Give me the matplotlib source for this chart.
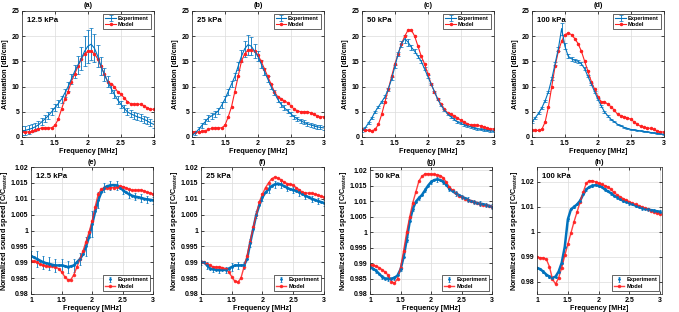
import matplotlib

matplotlib.use("Agg")

import matplotlib.pyplot as plt
import numpy as np

# frequency grid [MHz], 0.05 MHz step
freq = np.linspace(1.0, 3.0, 41)

pressures = ["12.5 kPa", "25 kPa", "50 kPa", "100 kPa"]
top_tags = ["(a)", "(b)", "(c)", "(d)"]
bottom_tags = ["(e)", "(f)", "(g)", "(h)"]

# attenuation [dB/cm]
att_exp_a = [1.2, 1.3, 1.5, 1.7, 2.0, 2.4, 3.0, 3.6, 4.2, 5.0, 5.8, 6.6, 7.5, 8.7, 10.0,
             11.5, 13.0, 14.3, 15.5, 17.0, 18.0, 18.4, 17.6, 16.0, 14.0, 12.4, 11.0, 9.7, 8.5,
             7.4, 6.5, 5.7, 5.0, 4.6, 4.3, 4.0, 3.8, 3.5, 3.2, 2.8, 2.5]
att_sd_a = [0.9, 0.9, 0.9, 0.8, 0.8, 0.7, 0.7, 0.7, 0.7, 0.7, 0.7, 0.7, 0.7, 0.8, 0.9,
            1.0, 1.3, 1.8, 2.3, 3.0, 3.3, 3.2, 2.8, 2.2, 1.8, 1.3, 1.1, 0.9, 0.8,
            0.8, 0.7, 0.7, 0.7, 0.7, 0.7, 0.7, 0.7, 0.7, 0.7, 0.7, 0.7]
att_mod_a = [1.1, 1.0, 1.0, 1.1, 1.3, 1.6, 1.8, 1.8, 1.8, 1.8, 2.3, 3.5, 5.5, 7.5, 9.0,
             11.0, 12.5, 14.0, 15.5, 16.5, 17.0, 17.0, 16.5, 15.5, 14.0, 12.5, 11.0, 10.5, 10.0,
             9.0, 8.5, 7.8, 7.0, 6.6, 6.5, 6.5, 6.5, 6.2, 5.8, 5.5, 5.5]

att_exp_b = [0.3, 0.8, 1.5, 2.3, 3.0, 3.8, 4.2, 4.6, 5.2, 6.3, 7.5, 9.0, 10.5, 12.0, 14.0,
             16.0, 17.5, 18.3, 18.0, 17.0, 16.0, 14.5, 13.0, 11.5, 10.0, 8.8, 7.5, 6.5, 5.8,
             5.2, 4.6, 4.0, 3.6, 3.2, 2.9, 2.6, 2.4, 2.2, 2.0, 1.9, 1.8]
att_sd_b = [0.4, 0.4, 0.5, 0.5, 0.5, 0.6, 0.6, 0.6, 0.6, 0.6, 0.6, 0.6, 0.6, 0.7, 0.8,
            1.2, 1.6, 2.0, 1.8, 1.4, 1.0, 0.8, 0.7, 0.6, 0.5, 0.5, 0.5, 0.5, 0.5,
            0.4, 0.4, 0.4, 0.4, 0.4, 0.4, 0.4, 0.4, 0.4, 0.4, 0.4, 0.4]
att_mod_b = [1.0, 1.0, 1.0, 1.1, 1.2, 1.5, 1.7, 1.8, 1.8, 1.8, 2.3, 4.0, 6.0, 9.0, 12.0,
             15.0, 16.5, 17.2, 17.2, 17.0, 16.3, 15.0, 13.5, 12.0, 10.5, 9.0, 8.0, 7.5, 7.2,
             6.8, 6.2, 5.5, 5.2, 5.0, 5.0, 5.0, 4.8, 4.5, 4.2, 4.0, 4.0]

att_exp_c = [1.2, 1.8, 2.8, 3.8, 5.0, 6.0, 7.0, 8.0, 9.5, 11.5, 14.0, 16.5, 18.5, 19.5, 18.8,
             17.8, 17.0, 16.0, 15.0, 13.5, 12.0, 10.5, 9.0, 7.5, 6.3, 5.3, 4.6, 4.0, 3.5,
             3.0, 2.7, 2.4, 2.2, 2.0, 1.8, 1.6, 1.5, 1.4, 1.3, 1.2, 1.1]
att_sd_c = [0.2, 0.2, 0.2, 0.2, 0.2, 0.2, 0.2, 0.3, 0.3, 0.3, 0.3, 0.4, 0.6, 0.8, 0.7,
            0.5, 0.4, 0.3, 0.3, 0.3, 0.3, 0.2, 0.2, 0.2, 0.2, 0.2, 0.2, 0.2, 0.2,
            0.2, 0.2, 0.2, 0.2, 0.2, 0.2, 0.2, 0.2, 0.2, 0.2, 0.2, 0.2]
att_mod_c = [1.5, 1.3, 1.3, 1.2, 1.5, 2.5, 4.5, 7.0, 9.5, 12.0, 14.5, 16.5, 18.5, 20.0, 21.2,
             21.2, 20.0, 18.0, 16.0, 14.5, 12.5, 10.5, 9.0, 7.5, 6.5, 5.5, 4.8, 4.5, 4.2,
             3.8, 3.3, 3.0, 2.6, 2.4, 2.4, 2.3, 2.2, 2.0, 1.8, 1.6, 1.6]

att_exp_d = [3.0, 3.8, 4.7, 5.8, 7.2, 9.0, 11.5, 14.5, 17.5, 21.5, 18.0, 16.0, 15.5, 15.2, 15.0,
             14.5, 13.5, 12.0, 10.5, 9.0, 7.5, 6.2, 5.0, 4.2, 3.5, 3.0, 2.5, 2.2, 1.9,
             1.7, 1.5, 1.4, 1.3, 1.2, 1.1, 1.0, 0.9, 0.8, 0.7, 0.6, 0.5]
att_sd_d = [0.2, 0.2, 0.2, 0.2, 0.2, 0.2, 0.3, 0.3, 0.4, 1.2, 0.6, 0.4, 0.4, 0.3, 0.3,
            0.3, 0.3, 0.2, 0.2, 0.2, 0.2, 0.2, 0.2, 0.2, 0.1, 0.1, 0.1, 0.1, 0.1,
            0.1, 0.1, 0.1, 0.1, 0.1, 0.1, 0.1, 0.1, 0.1, 0.1, 0.1, 0.1]
att_mod_d = [1.3, 1.3, 1.3, 1.5, 3.0, 6.0, 10.0, 14.0, 17.0, 19.0, 20.3, 20.6, 20.3, 19.5, 18.5,
             17.0, 15.0, 13.0, 11.0, 9.5, 8.0, 7.0, 7.0, 6.5, 6.0, 5.3, 4.5, 4.2, 4.0,
             3.8, 3.5, 3.0, 2.5, 2.1, 1.9, 1.8, 1.7, 1.5, 1.2, 1.0, 1.0]

# normalized sound speed [C/C_water]
spd_exp_e = [0.9920, 0.9915, 0.9910, 0.9905, 0.9900, 0.9897, 0.9895, 0.9892, 0.9890, 0.9890, 0.9890,
             0.9888, 0.9885, 0.9887, 0.9890, 0.9900, 0.9910, 0.9925, 0.9950, 0.9980, 1.0020,
             1.0060, 1.0095, 1.0120, 1.0135, 1.0140, 1.0142, 1.0143, 1.0142, 1.0135, 1.0128,
             1.0120, 1.0115, 1.0110, 1.0107, 1.0105, 1.0103, 1.0100, 1.0098, 1.0097, 1.0095]
spd_sd_e = [0.0015, 0.0020, 0.0025, 0.0020, 0.0020, 0.0020, 0.0020, 0.0020, 0.0020, 0.0020, 0.0020,
            0.0020, 0.0020, 0.0020, 0.0020, 0.0020, 0.0020, 0.0025, 0.0030, 0.0035, 0.0040,
            0.0035, 0.0025, 0.0020, 0.0015, 0.0015, 0.0015, 0.0015, 0.0015, 0.0012, 0.0012,
            0.0012, 0.0012, 0.0012, 0.0012, 0.0012, 0.0012, 0.0012, 0.0012, 0.0012, 0.0012]
spd_mod_e = [0.9903, 0.9903, 0.9900, 0.9893, 0.9890, 0.9888, 0.9888, 0.9888, 0.9885, 0.9880, 0.9870,
             0.9855, 0.9845, 0.9845, 0.9860, 0.9885, 0.9910, 0.9935, 0.9965, 0.9995, 1.0030,
             1.0075, 1.0115, 1.0130, 1.0135, 1.0135, 1.0135, 1.0135, 1.0137, 1.0140, 1.0138,
             1.0135, 1.0130, 1.0127, 1.0127, 1.0127, 1.0127, 1.0125, 1.0120, 1.0118, 1.0115]

spd_exp_f = [0.9900, 0.9900, 0.9890, 0.9880, 0.9878, 0.9876, 0.9876, 0.9876, 0.9876, 0.9880, 0.9885,
             0.9890, 0.9890, 0.9890, 0.9890, 0.9910, 0.9960, 1.0005, 1.0050, 1.0080, 1.0105,
             1.0120, 1.0130, 1.0140, 1.0145, 1.0148, 1.0145, 1.0140, 1.0135, 1.0130, 1.0128,
             1.0125, 1.0120, 1.0115, 1.0110, 1.0105, 1.0100, 1.0097, 1.0093, 1.0090, 1.0087]
spd_sd_f = [0.0008, 0.0008, 0.0010, 0.0010, 0.0010, 0.0010, 0.0010, 0.0010, 0.0010, 0.0012, 0.0012,
            0.0012, 0.0012, 0.0012, 0.0012, 0.0012, 0.0012, 0.0012, 0.0012, 0.0012, 0.0012,
            0.0012, 0.0012, 0.0012, 0.0012, 0.0012, 0.0010, 0.0010, 0.0010, 0.0010, 0.0010,
            0.0010, 0.0010, 0.0010, 0.0010, 0.0010, 0.0010, 0.0010, 0.0010, 0.0010, 0.0010]
spd_mod_f = [0.9900, 0.9900, 0.9895, 0.9890, 0.9885, 0.9885, 0.9885, 0.9883, 0.9880, 0.9870, 0.9855,
             0.9840, 0.9837, 0.9850, 0.9885, 0.9920, 0.9965, 1.0010, 1.0050, 1.0090, 1.0115,
             1.0135, 1.0150, 1.0163, 1.0168, 1.0165, 1.0160, 1.0152, 1.0148, 1.0145, 1.0143,
             1.0135, 1.0128, 1.0120, 1.0118, 1.0118, 1.0117, 1.0115, 1.0112, 1.0108, 1.0105]

spd_exp_g = [0.9888, 0.9882, 0.9875, 0.9865, 0.9855, 0.9850, 0.9850, 0.9850, 0.9852, 0.9860, 0.9880,
             0.9920, 0.9975, 1.0035, 1.0075, 1.0098, 1.0110, 1.0120, 1.0135, 1.0150, 1.0162,
             1.0168, 1.0170, 1.0168, 1.0162, 1.0152, 1.0140, 1.0132, 1.0125, 1.0120, 1.0114,
             1.0110, 1.0105, 1.0100, 1.0097, 1.0094, 1.0092, 1.0090, 1.0087, 1.0085, 1.0082]
spd_sd_g = [0.0006, 0.0006, 0.0006, 0.0007, 0.0007, 0.0007, 0.0007, 0.0007, 0.0007, 0.0007, 0.0007,
            0.0008, 0.0008, 0.0008, 0.0008, 0.0008, 0.0008, 0.0008, 0.0007, 0.0007, 0.0007,
            0.0007, 0.0007, 0.0007, 0.0007, 0.0007, 0.0007, 0.0007, 0.0007, 0.0007, 0.0007,
            0.0007, 0.0007, 0.0007, 0.0007, 0.0007, 0.0007, 0.0007, 0.0007, 0.0007, 0.0007]
spd_mod_g = [0.9895, 0.9893, 0.9890, 0.9885, 0.9878, 0.9870, 0.9860, 0.9840, 0.9835, 0.9850, 0.9885,
             0.9940, 1.0000, 1.0050, 1.0095, 1.0130, 1.0165, 1.0180, 1.0188, 1.0188, 1.0187,
             1.0186, 1.0185, 1.0182, 1.0175, 1.0160, 1.0145, 1.0135, 1.0125, 1.0118, 1.0113,
             1.0108, 1.0103, 1.0100, 1.0097, 1.0094, 1.0090, 1.0088, 1.0086, 1.0084, 1.0082]

spd_exp_h = [0.9855, 0.9850, 0.9840, 0.9828, 0.9820, 0.9815, 0.9820, 0.9840, 0.9875, 0.9940, 1.0050,
             1.0090, 1.0100, 1.0110, 1.0125, 1.0150, 1.0170, 1.0180, 1.0185, 1.0187, 1.0185,
             1.0180, 1.0170, 1.0162, 1.0155, 1.0145, 1.0138, 1.0130, 1.0125, 1.0120, 1.0115,
             1.0110, 1.0105, 1.0100, 1.0095, 1.0092, 1.0090, 1.0087, 1.0085, 1.0082, 1.0080]
spd_sd_h = [0.0005, 0.0005, 0.0005, 0.0005, 0.0005, 0.0005, 0.0005, 0.0005, 0.0006, 0.0006, 0.0006,
            0.0006, 0.0006, 0.0006, 0.0006, 0.0006, 0.0006, 0.0006, 0.0006, 0.0006, 0.0006,
            0.0006, 0.0006, 0.0006, 0.0006, 0.0006, 0.0006, 0.0006, 0.0006, 0.0006, 0.0006,
            0.0006, 0.0006, 0.0006, 0.0006, 0.0006, 0.0006, 0.0006, 0.0006, 0.0006, 0.0006]
spd_mod_h = [0.9900, 0.9895, 0.9895, 0.9890, 0.9860, 0.9810, 0.9790, 0.9815, 0.9855, 0.9905, 0.9950,
             0.9995, 1.0040, 1.0080, 1.0120, 1.0160, 1.0195, 1.0205, 1.0205, 1.0200, 1.0195,
             1.0190, 1.0185, 1.0180, 1.0170, 1.0158, 1.0148, 1.0140, 1.0133, 1.0127, 1.0120,
             1.0115, 1.0110, 1.0105, 1.0100, 1.0095, 1.0090, 1.0085, 1.0080, 1.0076, 1.0072]

att_exp = [att_exp_a, att_exp_b, att_exp_c, att_exp_d]
att_sd = [att_sd_a, att_sd_b, att_sd_c, att_sd_d]
att_mod = [att_mod_a, att_mod_b, att_mod_c, att_mod_d]
spd_exp = [spd_exp_e, spd_exp_f, spd_exp_g, spd_exp_h]
spd_sd = [spd_sd_e, spd_sd_f, spd_sd_g, spd_sd_h]
spd_mod = [spd_mod_e, spd_mod_f, spd_mod_g, spd_mod_h]

BLUE = "#0072BD"
RED = "#FF2020"
TICK_FS = 5
LABEL_FS = 5.2
TITLE_FS = 5.2
TAG_FS = 5.6
LEG_FS = 4.1

plt.rcParams["font.family"] = ["Liberation Sans", "DejaVu Sans"]
plt.rcParams["font.weight"] = "bold"
plt.rcParams["mathtext.fontset"] = "custom"
plt.rcParams["mathtext.bf"] = "Liberation Sans:bold"
plt.rcParams["mathtext.rm"] = "Liberation Sans:bold"
plt.rcParams["mathtext.default"] = "bf"


def style_axes(ax):
    ax.grid(True, color="#dcdcdc", linewidth=0.5)
    ax.set_axisbelow(True)
    ax.tick_params(direction="in", length=2, width=0.5, labelsize=TICK_FS, pad=2,
                   top=True, right=True)
    for s in ax.spines.values():
        s.set_linewidth(0.5)
        s.set_color("#262626")
    for lab in ax.get_xticklabels() + ax.get_yticklabels():
        lab.set_fontweight("bold")


def legend(ax, handles, loc):
    leg = ax.legend(handles, ["Experiment", "Model"], loc=loc, fontsize=LEG_FS,
                    frameon=True, fancybox=False, framealpha=1,
                    borderpad=0.35, handlelength=1.8, handletextpad=0.4,
                    labelspacing=0.3, borderaxespad=0.5)
    leg.get_frame().set_edgecolor("#262626")
    leg.get_frame().set_linewidth(0.5)
    for t in leg.get_texts():
        t.set_fontweight("bold")


def label(ax, tag, pressure, ylabel, ypad):
    ax.set_xlabel("Frequency [MHz]", fontsize=LABEL_FS, fontweight="bold", labelpad=1)
    ax.set_ylabel(ylabel, fontsize=LABEL_FS, fontweight="bold", labelpad=ypad)
    ax.set_title(tag, fontsize=TITLE_FS, fontweight="bold", pad=2.5)
    ax.text(0.04, 0.95, pressure, transform=ax.transAxes, ha="left",
            va="top", fontsize=TAG_FS, fontweight="bold")


def main() -> None:
    fig = plt.figure(figsize=(6.79, 3.12), dpi=100)

    top_left = [0.0324, 0.2828, 0.5331, 0.7835]
    bot_left = [0.0457, 0.2960, 0.5450, 0.7910]
    bot_width = [0.180, 0.181, 0.180, 0.184]
    spd_xlim = [(1.0, 3.0), (1.0, 3.0), (1.01, 3.0), (1.04, 3.03)]
    spd_ylim = [(0.98, 1.02), (0.98, 1.02), (0.981, 1.021), (0.975, 1.026)]

    for i in range(4):
        ax = fig.add_axes([top_left[i], 0.561, 0.194, 0.404])
        eb = ax.errorbar(freq, att_exp[i], yerr=att_sd[i], color=BLUE, linewidth=0.8,
                         elinewidth=0.6, capsize=1.2, capthick=0.5)
        ln, = ax.plot(freq, att_mod[i], "-", color=RED, marker="o", markersize=1.5,
                      linewidth=0.8)
        ax.set_xlim(1, 3)
        ax.set_ylim(0, 25)
        ax.set_xticks([1, 1.5, 2, 2.5, 3])
        ax.set_xticklabels(["1", "1.5", "2", "2.5", "3"])
        ax.set_yticks([0, 5, 10, 15, 20, 25])
        style_axes(ax)
        label(ax, top_tags[i], pressures[i], "Attenuation [dB/cm]", 2)
        legend(ax, [eb, ln], "upper right")

    for i in range(4):
        ax = fig.add_axes([bot_left[i], 0.0577, bot_width[i], 0.407])
        ax.plot(freq, spd_exp[i], color=BLUE, linewidth=1.8)
        eb = ax.errorbar(freq, spd_exp[i], yerr=spd_sd[i], fmt=".", color=BLUE,
                         markersize=2, elinewidth=0.6, capsize=1.0, capthick=0.5,
                         errorevery=2)
        ln, = ax.plot(freq, spd_mod[i], "-", color=RED, marker="o", markersize=1.5,
                      linewidth=1.0, alpha=0.85)
        ax.set_xlim(*spd_xlim[i])
        ax.set_ylim(*spd_ylim[i])
        ax.set_xticks([1, 1.5, 2, 2.5, 3])
        ax.set_xticklabels(["1", "1.5", "2", "2.5", "3"])
        if i < 3:
            ticks = [0.98, 0.985, 0.99, 0.995, 1.0, 1.005, 1.01, 1.015, 1.02]
            ax.set_yticks(ticks)
            ax.set_yticklabels(["0.98", "0.985", "0.99", "0.995", "1", "1.005",
                                "1.01", "1.015", "1.02"])
        else:
            ax.set_yticks([0.98, 0.99, 1.0, 1.01, 1.02])
            ax.set_yticklabels(["0.98", "0.99", "1", "1.01", "1.02"])
        style_axes(ax)
        label(ax, bottom_tags[i], pressures[i],
              r"Normalized sound speed [C/C$_{water}$]", 0.5)
        legend(ax, [eb, ln], "lower right")

    fig.savefig("out.png", dpi=100, facecolor="white")


if __name__ == "__main__":
    main()
